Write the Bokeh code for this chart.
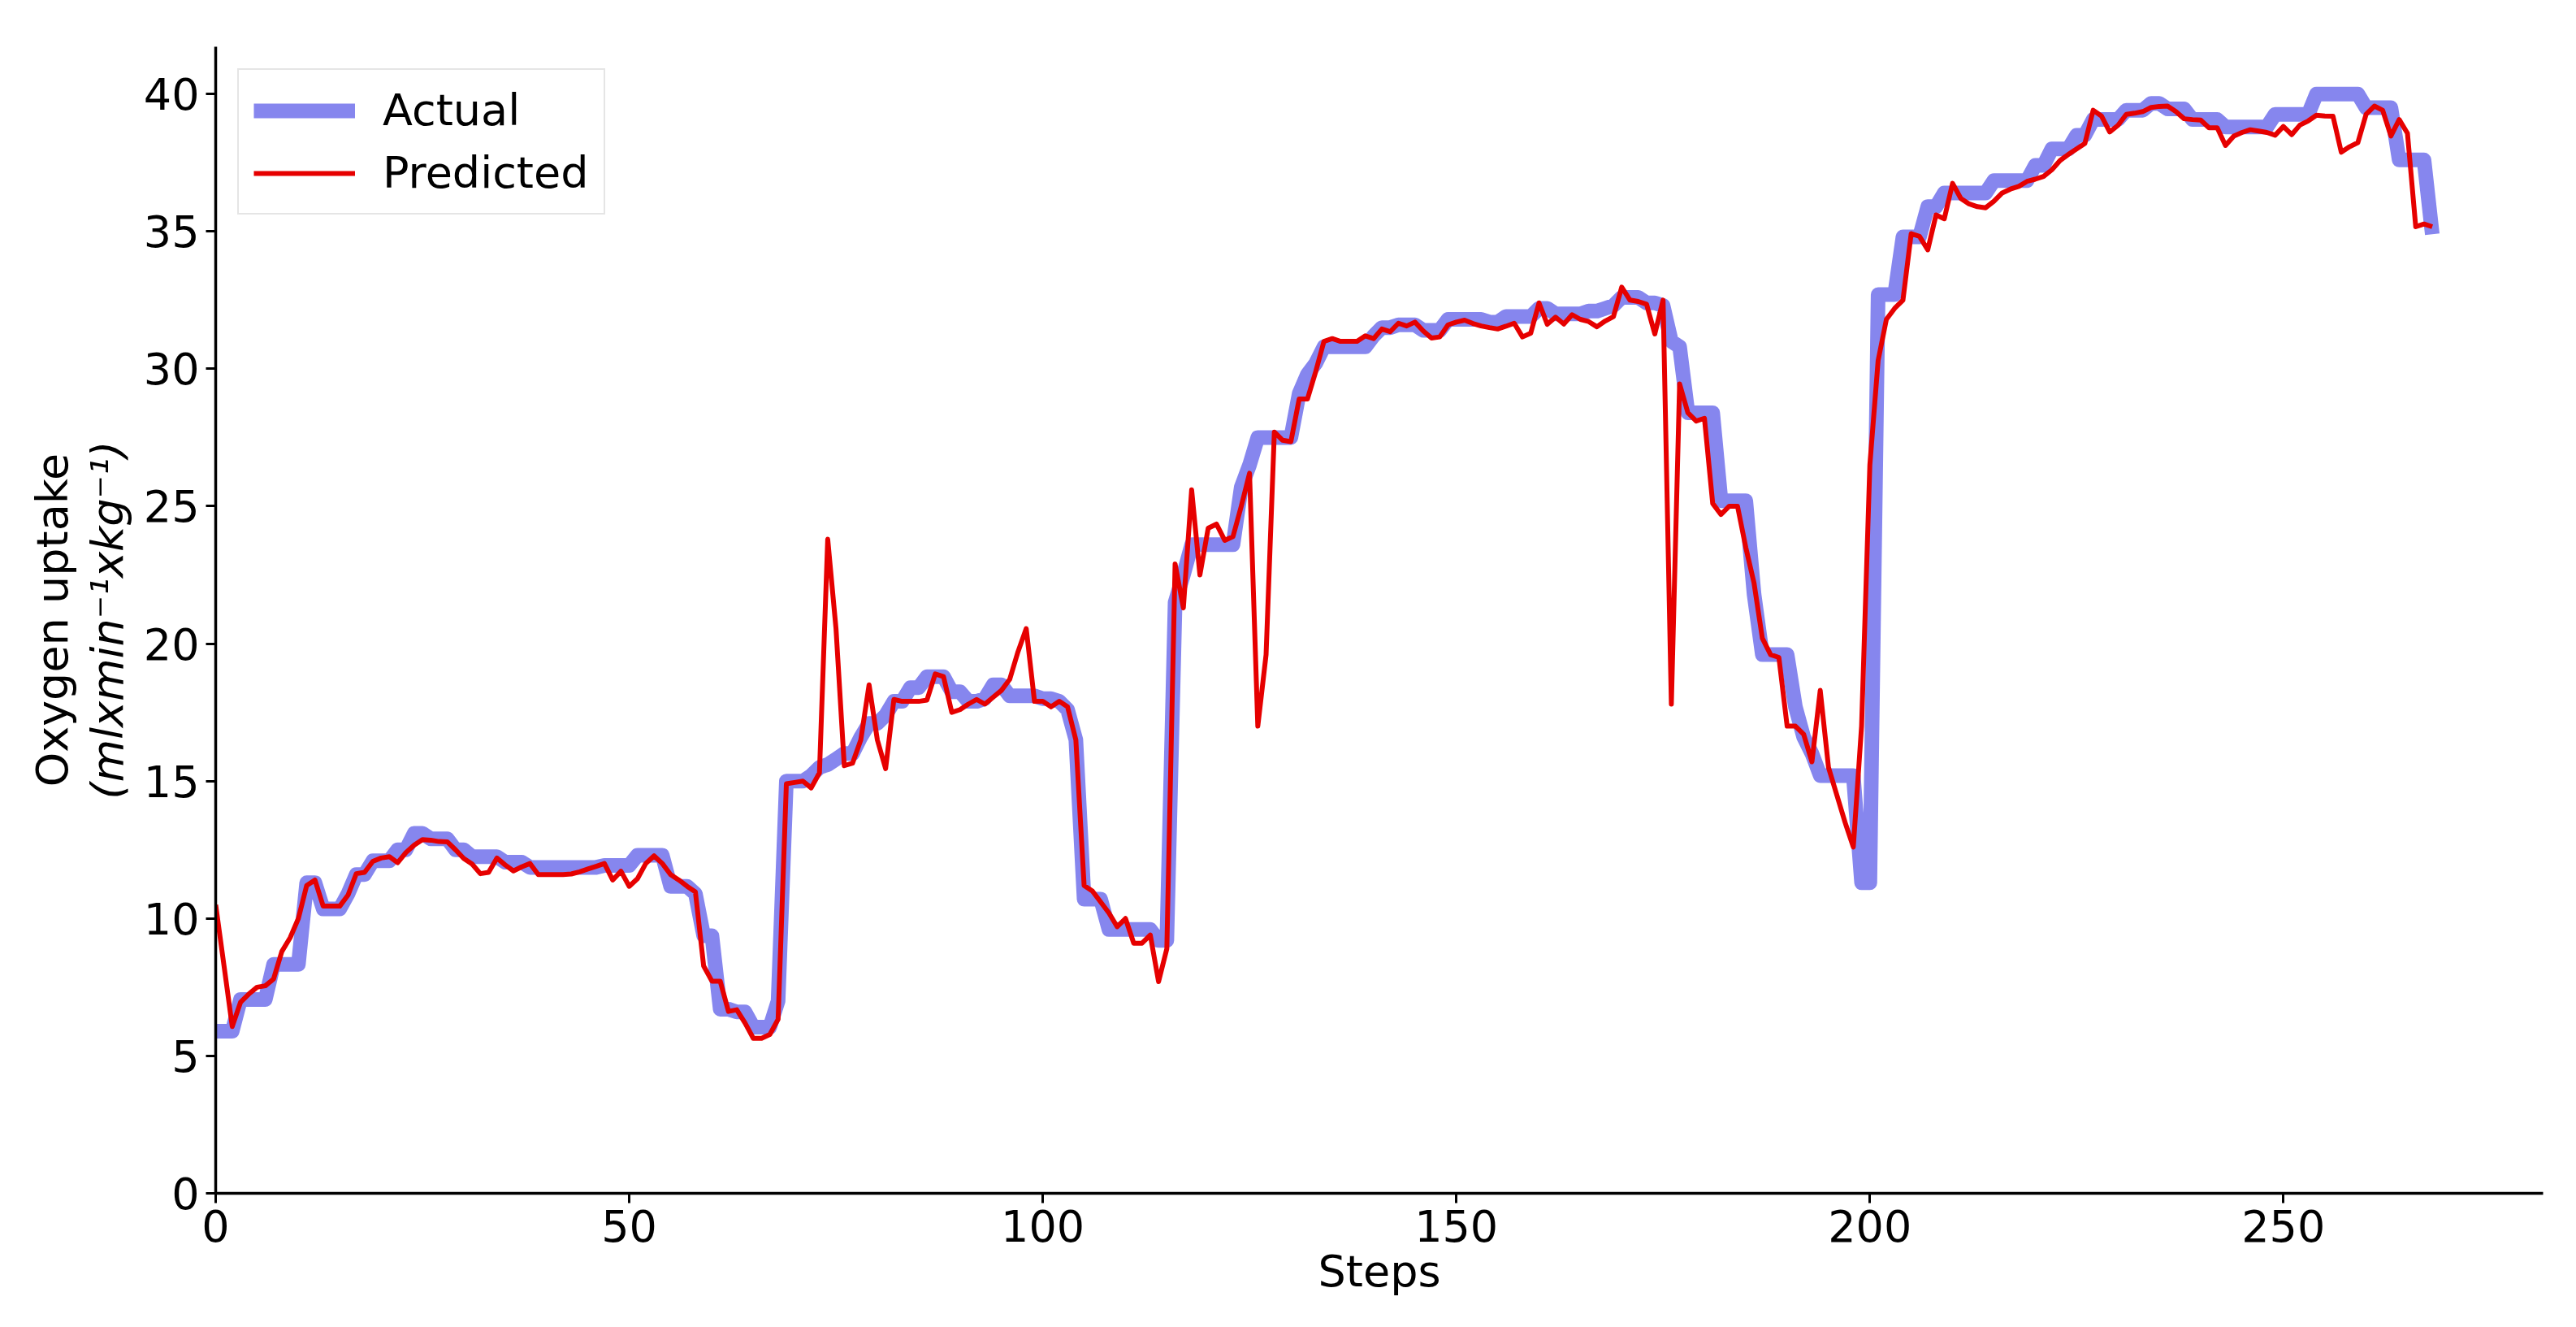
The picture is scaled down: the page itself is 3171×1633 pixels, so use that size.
from bokeh.plotting import figure
from bokeh.models import Range1d, FixedTicker, LinearAxis
from bokeh.embed import file_html
from bokeh.resources import INLINE

actual = [
    5.9, 5.9, 5.9, 7.05, 7.05, 7.05, 7.05, 8.33, 8.33, 8.33,
    8.33, 11.3, 11.3, 10.35, 10.35, 10.35, 10.9, 11.6, 11.6, 12.1,
    12.1, 12.1, 12.5, 12.5, 13.1, 13.1, 12.9, 12.9, 12.9, 12.5,
    12.5, 12.25, 12.25, 12.25, 12.25, 12.05, 12.05, 12.05, 11.86, 11.86,
    11.86, 11.86, 11.86, 11.86, 11.86, 11.86, 11.86, 11.93, 11.93, 11.93,
    11.93, 12.3, 12.3, 12.3, 12.3, 11.17, 11.17, 11.17, 10.9, 9.37,
    9.37, 6.7, 6.7, 6.6, 6.6, 6.05, 6.05, 6.05, 7.0, 15.0,
    15.0, 15.0, 15.2, 15.5, 15.6, 15.8, 16.0, 16.0, 16.6, 17.1,
    17.1, 17.4, 17.9, 17.9, 18.4, 18.4, 18.8, 18.8, 18.8, 18.25,
    18.25, 17.9, 17.9, 18.0, 18.5, 18.5, 18.1, 18.1, 18.1, 18.1,
    18.0, 18.0, 17.9, 17.6, 16.5, 10.7, 10.7, 10.7, 9.6, 9.6,
    9.6, 9.6, 9.6, 9.6, 9.2, 9.2, 21.5, 22.5, 23.6, 23.6,
    23.6, 23.6, 23.6, 23.6, 25.7, 26.5, 27.5, 27.5, 27.5, 27.5,
    27.5, 29.1, 29.8, 30.2, 30.8, 30.8, 30.8, 30.8, 30.8, 30.8,
    31.2, 31.5, 31.5, 31.6, 31.6, 31.6, 31.4, 31.4, 31.4, 31.8,
    31.8, 31.8, 31.8, 31.8, 31.7, 31.7, 31.9, 31.9, 31.9, 31.9,
    32.2, 32.2, 32.0, 32.0, 32.0, 32.0, 32.1, 32.1, 32.2, 32.3,
    32.6, 32.6, 32.6, 32.4, 32.4, 32.3, 31.0, 30.8, 28.4, 28.4,
    28.4, 28.4, 25.2, 25.2, 25.2, 25.2, 21.8, 19.6, 19.6, 19.6,
    19.6, 17.7, 16.6, 16.0, 15.2, 15.2, 15.2, 15.2, 15.2, 11.3,
    11.3, 32.7, 32.7, 32.7, 34.8, 34.8, 34.8, 35.9, 35.9, 36.4,
    36.4, 36.4, 36.4, 36.4, 36.4, 36.85, 36.85, 36.85, 36.85, 36.85,
    37.4, 37.4, 38.0, 38.0, 38.0, 38.5, 38.5, 39.07, 39.07, 39.07,
    39.07, 39.41, 39.41, 39.41, 39.66, 39.66, 39.46, 39.46, 39.46, 39.07,
    39.07, 39.07, 39.07, 38.8, 38.8, 38.8, 38.8, 38.8, 38.8, 39.26,
    39.26, 39.26, 39.26, 39.26, 40.0, 40.0, 40.0, 40.0, 40.0, 40.0,
    39.5, 39.5, 39.5, 39.5, 37.6, 37.6, 37.6, 37.6, 34.9,
]

predicted = [
    10.5, 8.3, 6.07, 6.95, 7.25, 7.5, 7.55, 7.8, 8.8, 9.3,
    10.0, 11.2, 11.4, 10.45, 10.45, 10.45, 10.85, 11.63, 11.68, 12.08,
    12.2, 12.25, 12.03, 12.4, 12.67, 12.87, 12.85, 12.8, 12.79, 12.5,
    12.18, 11.98, 11.63, 11.68, 12.2, 11.95, 11.73, 11.88, 12.0, 11.6,
    11.6, 11.6, 11.6, 11.62, 11.7, 11.8, 11.9, 12.0, 11.4, 11.72,
    11.17, 11.45, 12.0, 12.28, 12.0, 11.6, 11.4, 11.17, 10.97, 8.27,
    7.72, 7.72, 6.62, 6.68, 6.2, 5.64, 5.64, 5.78, 6.33, 14.9,
    14.95, 15.0, 14.75, 15.3, 23.8, 20.55, 15.56, 15.65, 16.5, 18.5,
    16.5, 15.45, 17.97, 17.9, 17.9, 17.9, 17.95, 18.9, 18.8, 17.5,
    17.6, 17.8, 17.97, 17.8, 18.05, 18.3, 18.7, 19.7, 20.55, 17.9,
    17.9, 17.7, 17.9, 17.7, 16.5, 11.2, 11.0, 10.6, 10.2, 9.7,
    10.0, 9.1, 9.1, 9.4, 7.7, 8.9, 22.9, 21.3, 25.6, 22.5,
    24.2, 24.35, 23.76, 23.9, 25.0, 26.2, 17.0, 19.6, 27.7, 27.4,
    27.35, 28.9, 28.9, 29.9, 31.0, 31.1, 31.0, 31.0, 31.0, 31.2,
    31.1, 31.45, 31.35, 31.66, 31.56, 31.7, 31.38, 31.12, 31.16, 31.6,
    31.7, 31.77, 31.65, 31.56, 31.5, 31.45, 31.55, 31.66, 31.16, 31.3,
    32.4, 31.62, 31.88, 31.63, 31.97, 31.8, 31.72, 31.53, 31.74, 31.9,
    32.97, 32.5, 32.45, 32.35, 31.27, 32.5, 17.8, 29.45, 28.4, 28.1,
    28.2, 25.1, 24.7, 25.0, 25.0, 23.5, 22.2, 20.2, 19.6, 19.5,
    17.0, 17.0, 16.7, 15.7, 18.3, 15.5, 14.5, 13.5, 12.6, 17.0,
    26.5, 30.3, 31.8, 32.2, 32.5, 34.92, 34.82, 34.33, 35.6, 35.46,
    36.75, 36.2, 36.0, 35.9, 35.86, 36.1, 36.4, 36.54, 36.64, 36.82,
    36.9, 37.0, 37.24, 37.58, 37.8, 38.0, 38.2, 39.41, 39.2, 38.62,
    38.86, 39.26, 39.3, 39.36, 39.51, 39.55, 39.56, 39.36, 39.1, 39.07,
    39.05, 38.77, 38.77, 38.13, 38.47, 38.6, 38.7, 38.65, 38.6, 38.5,
    38.82, 38.52, 38.87, 39.02, 39.23, 39.2, 39.19, 37.88, 38.08, 38.23,
    39.26, 39.56, 39.41, 38.47, 39.07, 38.57, 35.17, 35.27, 35.17,
]

steps = list(range(len(actual)))
x_ticks = [0, 50, 100, 150, 200, 250]
y_ticks = [0, 5, 10, 15, 20, 25, 30, 35, 40]
x_label = "Steps"
y_label_outer = "Oxygen uptake"
y_label_inner = "(mlxmin\u207b\u00b9xkg\u207b\u00b9)"

FONT = "DejaVu Sans"
FS = "54px"

p = figure(
    width=3155, height=1617,
    x_range=Range1d(0, 281.4), y_range=Range1d(0, 41.72),
    output_backend="svg", toolbar_location=None,
    min_border_left=265, min_border_right=25,
    min_border_top=57, min_border_bottom=149,
)
p.outline_line_color = None
p.xgrid.visible = False
p.ygrid.visible = False
p.background_fill_color = "white"
p.border_fill_color = "white"

p.line(steps, actual, line_color="#8686ee", line_width=18,
       line_join="round", line_cap="butt", legend_label="Actual")
p.line(steps, predicted, line_color="#e60000", line_width=6,
       line_join="round", line_cap="butt", legend_label="Predicted")

for ax in (p.xaxis[0], p.yaxis[0]):
    ax.axis_line_width = 3.5
    ax.axis_line_color = "black"
    ax.major_tick_line_width = 3
    ax.major_tick_line_color = "black"
    ax.major_tick_out = 12
    ax.major_tick_in = 0
    ax.minor_tick_line_color = None
    ax.major_label_text_font = FONT
    ax.major_label_text_font_size = FS
    ax.major_label_text_color = "black"
    ax.major_label_standoff = 8
    ax.axis_label_text_font = FONT
    ax.axis_label_text_font_size = FS
    ax.axis_label_text_color = "black"

p.xaxis[0].ticker = FixedTicker(ticks=x_ticks)
p.yaxis[0].ticker = FixedTicker(ticks=y_ticks)
p.xaxis[0].axis_label = x_label
p.xaxis[0].axis_label_text_font_style = "normal"
p.xaxis[0].axis_label_standoff = 2
p.yaxis[0].axis_label = y_label_inner
p.yaxis[0].axis_label_text_font_style = "italic"
p.yaxis[0].axis_label_standoff = 10

ax2 = LinearAxis(
    ticker=FixedTicker(ticks=[]),
    axis_line_color=None, major_tick_line_color=None, minor_tick_line_color=None,
    major_tick_out=0, major_tick_in=0, major_label_standoff=0,
    major_label_text_font_size="0px",
    axis_label=y_label_outer, axis_label_standoff=2,
    axis_label_text_font=FONT, axis_label_text_font_size=FS,
    axis_label_text_font_style="normal", axis_label_text_color="black",
)
p.add_layout(ax2, "left")

lg = p.legend[0]
lg.location = "top_left"
lg.margin = 27
lg.padding = 18
lg.spacing = 14
lg.glyph_width = 125
lg.glyph_height = 62
lg.label_height = 62
lg.label_standoff = 34
lg.label_text_font = FONT
lg.label_text_font_size = FS
lg.label_text_color = "black"
lg.border_line_color = "#cccccc"
lg.border_line_width = 2
lg.background_fill_color = "white"
lg.background_fill_alpha = 0.85

open("out.html", "w").write(file_html(p, INLINE))
